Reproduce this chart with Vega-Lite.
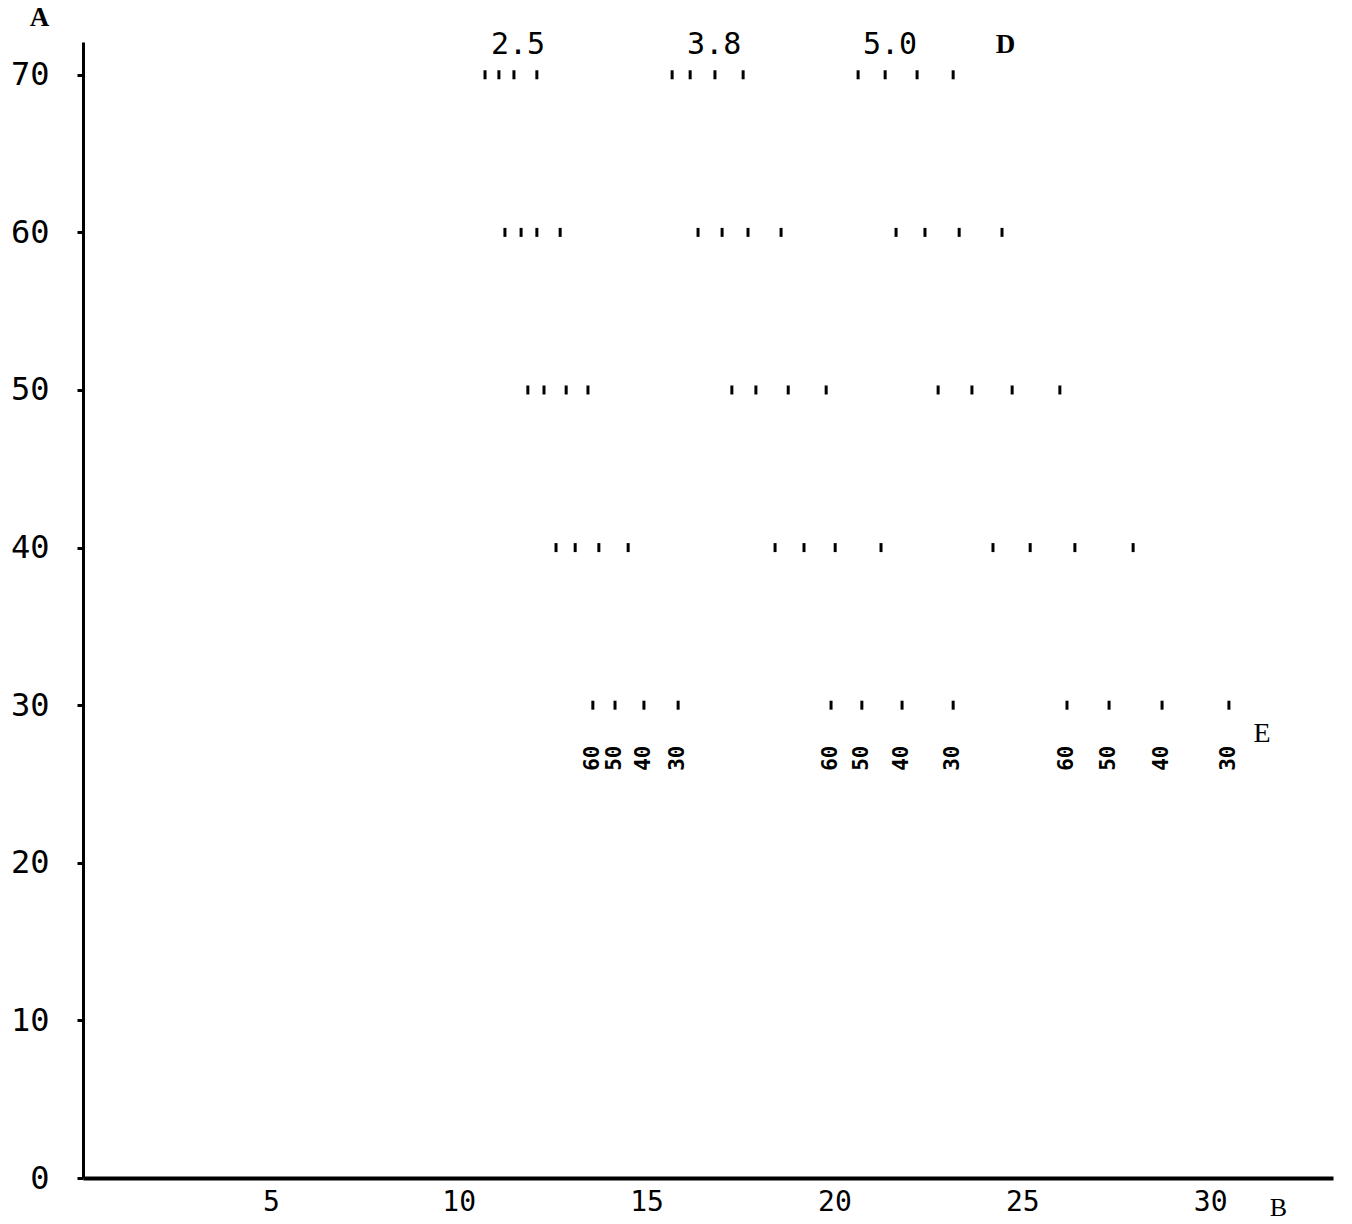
{
  "$schema": "https://vega.github.io/schema/vega-lite/v6.json",
  "width": 1250,
  "height": 1136,
  "autosize": {"type": "none"},
  "padding": {"left": 83, "top": 42, "right": 19, "bottom": 46},
  "background": "white",
  "config": {"view": {"stroke": null}},
  "datasets": {
    "points": [
      {"A": 70, "D": "2.5", "B": 10.70}, {"A": 70, "D": "2.5", "B": 11.07}, {"A": 70, "D": "2.5", "B": 11.47}, {"A": 70, "D": "2.5", "B": 12.08},
      {"A": 70, "D": "3.8", "B": 15.68}, {"A": 70, "D": "3.8", "B": 16.16}, {"A": 70, "D": "3.8", "B": 16.82}, {"A": 70, "D": "3.8", "B": 17.57},
      {"A": 70, "D": "5.0", "B": 20.63}, {"A": 70, "D": "5.0", "B": 21.35}, {"A": 70, "D": "5.0", "B": 22.20}, {"A": 70, "D": "5.0", "B": 23.16},
      {"A": 60, "D": "2.5", "B": 11.23}, {"A": 60, "D": "2.5", "B": 11.66}, {"A": 60, "D": "2.5", "B": 12.08}, {"A": 60, "D": "2.5", "B": 12.70},
      {"A": 60, "D": "3.8", "B": 16.37}, {"A": 60, "D": "3.8", "B": 17.01}, {"A": 60, "D": "3.8", "B": 17.70}, {"A": 60, "D": "3.8", "B": 18.58},
      {"A": 60, "D": "5.0", "B": 21.64}, {"A": 60, "D": "5.0", "B": 22.41}, {"A": 60, "D": "5.0", "B": 23.32}, {"A": 60, "D": "5.0", "B": 24.46},
      {"A": 50, "D": "2.5", "B": 11.84}, {"A": 50, "D": "2.5", "B": 12.27}, {"A": 50, "D": "2.5", "B": 12.86}, {"A": 50, "D": "2.5", "B": 13.44},
      {"A": 50, "D": "3.8", "B": 17.27}, {"A": 50, "D": "3.8", "B": 17.91}, {"A": 50, "D": "3.8", "B": 18.77}, {"A": 50, "D": "3.8", "B": 19.78},
      {"A": 50, "D": "5.0", "B": 22.76}, {"A": 50, "D": "5.0", "B": 23.66}, {"A": 50, "D": "5.0", "B": 24.73}, {"A": 50, "D": "5.0", "B": 26.00},
      {"A": 40, "D": "2.5", "B": 12.59}, {"A": 40, "D": "2.5", "B": 13.10}, {"A": 40, "D": "2.5", "B": 13.73}, {"A": 40, "D": "2.5", "B": 14.51},
      {"A": 40, "D": "3.8", "B": 18.42}, {"A": 40, "D": "3.8", "B": 19.19}, {"A": 40, "D": "3.8", "B": 20.02}, {"A": 40, "D": "3.8", "B": 21.24},
      {"A": 40, "D": "5.0", "B": 24.22}, {"A": 40, "D": "5.0", "B": 25.21}, {"A": 40, "D": "5.0", "B": 26.40}, {"A": 40, "D": "5.0", "B": 27.95},
      {"A": 30, "D": "2.5", "B": 13.57, "E": "60"}, {"A": 30, "D": "2.5", "B": 14.16, "E": "50"}, {"A": 30, "D": "2.5", "B": 14.93, "E": "40"}, {"A": 30, "D": "2.5", "B": 15.84, "E": "30"},
      {"A": 30, "D": "3.8", "B": 19.91, "E": "60"}, {"A": 30, "D": "3.8", "B": 20.73, "E": "50"}, {"A": 30, "D": "3.8", "B": 21.80, "E": "40"}, {"A": 30, "D": "3.8", "B": 23.16, "E": "30"},
      {"A": 30, "D": "5.0", "B": 26.19, "E": "60"}, {"A": 30, "D": "5.0", "B": 27.31, "E": "50"}, {"A": 30, "D": "5.0", "B": 28.72, "E": "40"}, {"A": 30, "D": "5.0", "B": 30.50, "E": "30"}
    ],
    "labels": [
      {"label": "2.5", "B": 11.58, "A": 71.9, "kind": "num"},
      {"label": "3.8", "B": 16.80, "A": 71.9, "kind": "num"},
      {"label": "5.0", "B": 21.48, "A": 71.9, "kind": "num"},
      {"label": "D", "B": 24.55, "A": 71.9, "kind": "bold"},
      {"label": "E", "B": 31.38, "A": 28.2, "kind": "plain"}
    ]
  },
  "layer": [
    {
      "data": {"name": "points"},
      "mark": {"type": "tick", "orient": "vertical", "size": 9, "thickness": 3, "color": "black", "opacity": 1},
      "encoding": {
        "x": {
          "field": "B", "type": "quantitative",
          "scale": {"domain": [0, 33.27], "nice": false, "zero": false},
          "axis": {
            "values": [5, 10, 15, 20, 25, 30],
            "grid": false, "ticks": false,
            "domainColor": "black", "domainWidth": 4,
            "labelFont": "DejaVu Sans Mono", "labelFontSize": 28, "labelColor": "black",
            "labelPadding": 10, "labelFlush": false,
            "title": "B", "titleFont": "Liberation Serif", "titleFontSize": 26, "titleFontWeight": "normal",
            "titleColor": "black", "titleX": 1195, "titleY": 29, "titleBaseline": "middle", "titleAnchor": "start", "titleAlign": "center"
          }
        },
        "y": {
          "field": "A", "type": "quantitative",
          "scale": {"domain": [0, 72.08], "nice": false, "zero": false},
          "axis": {
            "values": [0, 10, 20, 30, 40, 50, 60, 70],
            "grid": false, "ticks": true, "tickSize": 6, "tickWidth": 3, "tickColor": "black",
            "domainColor": "black", "domainWidth": 3,
            "labelFont": "DejaVu Sans Mono", "labelFontSize": 32, "labelColor": "black",
            "labelPadding": 28, "labelFlush": false,
            "title": "A", "titleFont": "Liberation Serif", "titleFontSize": 27, "titleFontWeight": "bold",
            "titleColor": "black", "titleAngle": 0, "titleX": -44, "titleY": -25, "titleBaseline": "middle", "titleAlign": "center", "titleAnchor": "start"
          }
        }
      }
    },
    {
      "data": {"name": "points"},
      "transform": [{"filter": "datum.A == 30"}],
      "mark": {"type": "text", "angle": 270, "dx": -53, "align": "center", "baseline": "middle", "font": "DejaVu Sans Mono", "fontSize": 21, "fontWeight": "bold", "color": "black"},
      "encoding": {
        "x": {"field": "B", "type": "quantitative"},
        "y": {"field": "A", "type": "quantitative"},
        "text": {"field": "E"}
      }
    },
    {
      "data": {"name": "labels"},
      "transform": [{"filter": "datum.kind == 'num'"}],
      "mark": {"type": "text", "align": "center", "baseline": "middle", "font": "DejaVu Sans Mono", "fontSize": 30, "color": "black"},
      "encoding": {
        "x": {"field": "B", "type": "quantitative"},
        "y": {"field": "A", "type": "quantitative"},
        "text": {"field": "label"}
      }
    },
    {
      "data": {"name": "labels"},
      "transform": [{"filter": "datum.kind == 'bold'"}],
      "mark": {"type": "text", "align": "center", "baseline": "middle", "font": "Liberation Serif", "fontSize": 27, "fontWeight": "bold", "color": "black"},
      "encoding": {
        "x": {"field": "B", "type": "quantitative"},
        "y": {"field": "A", "type": "quantitative"},
        "text": {"field": "label"}
      }
    },
    {
      "data": {"name": "labels"},
      "transform": [{"filter": "datum.kind == 'plain'"}],
      "mark": {"type": "text", "align": "center", "baseline": "middle", "font": "Liberation Serif", "fontSize": 28, "fontWeight": "normal", "color": "black"},
      "encoding": {
        "x": {"field": "B", "type": "quantitative"},
        "y": {"field": "A", "type": "quantitative"},
        "text": {"field": "label"}
      }
    }
  ]
}
